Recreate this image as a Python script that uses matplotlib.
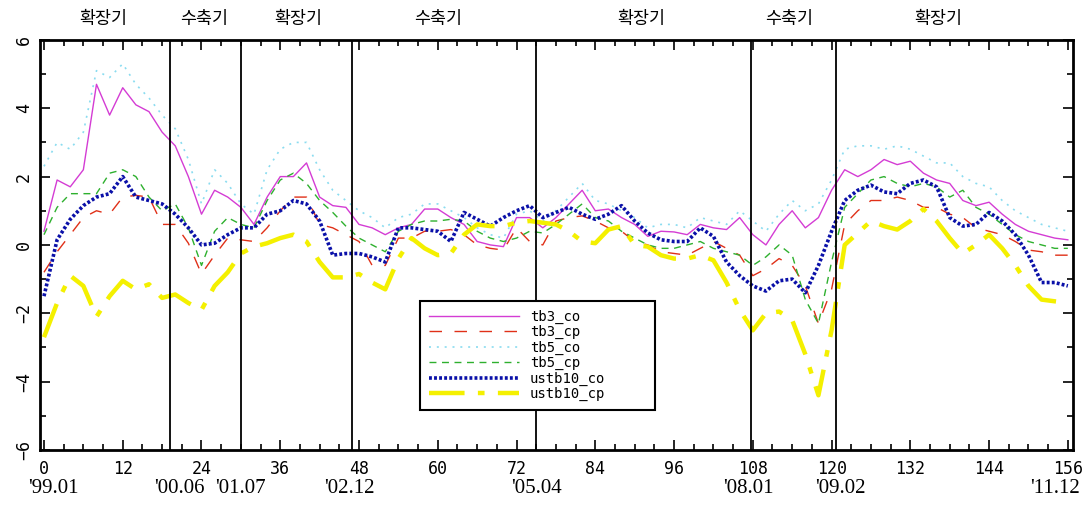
import matplotlib
matplotlib.use("Agg")
import matplotlib.pyplot as plt
import matplotlib.transforms as mtransforms
from matplotlib.ticker import MultipleLocator

# months since '99.01, every 2nd month
months = list(range(0, 157, 2))

tb3_co = [0.4, 1.9, 1.7, 2.2, 4.7, 3.8, 4.6, 4.1, 3.9, 3.3, 2.9, 2.0, 0.9, 1.6, 1.4, 1.1,
          0.6, 1.4, 2.0, 2.0, 2.4, 1.4, 1.15, 1.1, 0.6, 0.5, 0.3, 0.5, 0.6, 1.05, 1.05, 0.8,
          0.6, 0.1, 0.0, -0.05, 0.8, 0.8, 0.5, 0.8, 1.2, 1.6, 1.0, 1.05, 0.8, 0.6, 0.25, 0.4,
          0.38, 0.3, 0.6, 0.5, 0.45, 0.8, 0.3, 0.0, 0.6, 1.0, 0.5, 0.8, 1.6, 2.2, 2.0, 2.2,
          2.5, 2.35, 2.45, 2.1, 1.9, 1.8, 1.3, 1.15, 1.25, 0.9, 0.6, 0.4, 0.3, 0.2, 0.15]
tb3_cp = [-0.8, -0.2, 0.3, 0.8, 1.0, 0.9, 1.4, 1.45, 1.4, 0.6, 0.6, 0.05, -0.85, -0.3, 0.2, 0.15,
          0.1, 0.5, 1.0, 1.4, 1.4, 0.6, 0.5, 0.3, 0.1, -0.6, -0.6, 0.2, 0.2, 0.4, 0.4, 0.45,
          0.3, 0.0, -0.1, -0.15, 0.5, 0.1, 0.0, 0.7, 0.8, 0.85, 0.7, 0.5, 0.4, 0.1, 0.0, -0.2,
          -0.25, -0.3, -0.1, 0.1, -0.1, -0.3, -0.9, -0.7, -0.4, -0.6, -1.2, -2.3, -1.3, 0.6, 1.0, 1.3,
          1.3, 1.4, 1.3, 1.1, 1.1, 0.9, 0.8, 0.5, 0.4, 0.3, 0.1, -0.15, -0.2, -0.3, -0.3]
tb5_co = [2.3, 3.0, 2.8, 3.3, 5.1, 4.9, 5.3, 4.7, 4.3, 3.8, 3.4, 2.5, 1.2, 2.2, 1.8, 1.2,
          0.9, 2.2, 2.8, 3.0, 3.0, 2.2, 1.6, 1.3, 1.0, 0.8, 0.5, 0.8, 0.9, 1.2, 1.2, 1.0,
          0.8, 0.5, 0.3, 0.2, 0.9, 1.0, 0.7, 1.0, 1.4, 1.8, 1.3, 1.2, 1.0, 0.8, 0.5, 0.6,
          0.6, 0.5, 0.8, 0.7, 0.6, 1.0, 0.7, 0.4, 0.9, 1.3, 1.0, 1.2, 1.9, 2.8, 2.9, 2.9,
          2.8, 2.9, 2.8, 2.6, 2.4, 2.4, 2.0, 1.8, 1.7, 1.3, 1.0, 0.8, 0.6, 0.5, 0.4]
tb5_cp = [0.3, 1.1, 1.5, 1.5, 1.5, 2.1, 2.2, 2.0, 1.4, 1.0, 1.2, 0.5, -0.6, 0.4, 0.8, 0.6,
          0.5, 1.3, 1.9, 2.1, 1.8, 1.3, 0.95, 0.55, 0.2, 0.0, -0.2, 0.4, 0.6, 0.7, 0.7, 0.75,
          0.7, 0.4, 0.2, 0.1, 0.2, 0.4, 0.35, 0.6, 0.9, 1.2, 0.8, 0.7, 0.4, 0.2, 0.0, -0.1,
          -0.1, 0.0, 0.1, -0.1, -0.2, -0.3, -0.6, -0.35, 0.0, -0.3, -1.6, -2.3, -0.5, 1.1, 1.5, 1.9,
          2.0, 1.8, 1.7, 1.8, 1.7, 1.4, 1.6, 1.1, 0.9, 0.6, 0.3, 0.1, 0.0, -0.1, -0.1]
ustb10_co = [-1.5, 0.15, 0.75, 1.15, 1.4, 1.5, 2.0, 1.4, 1.3, 1.2, 0.9, 0.5, 0.0, 0.05, 0.3, 0.5,
             0.5, 0.9, 1.0, 1.3, 1.2, 0.7, -0.3, -0.25, -0.25, -0.35, -0.5, 0.5, 0.5, 0.45, 0.4, 0.1,
             0.95, 0.75, 0.55, 0.8, 1.0, 1.15, 0.8, 0.95, 1.1, 0.9, 0.75, 0.9, 1.15, 0.7, 0.35, 0.15,
             0.1, 0.1, 0.5, 0.25, -0.5, -0.9, -1.2, -1.35, -1.05, -1.0, -1.4, -0.6, 0.4, 1.3, 1.6, 1.75,
             1.55, 1.5, 1.8, 1.9, 1.7, 0.8, 0.55, 0.6, 0.95, 0.7, 0.3, -0.3, -1.1, -1.1, -1.2]
ustb10_cp = [-2.7, -1.7, -0.9, -1.2, -2.1, -1.5, -1.05, -1.3, -1.15, -1.55, -1.45, -1.7, -1.9, -1.2, -0.8, -0.25,
             -0.05, 0.05, 0.2, 0.3, 0.1, -0.5, -0.95, -0.95, -0.85, -1.1, -1.3, -0.4, 0.2, -0.1, -0.3, -0.25,
             0.3, 0.6, 0.55, 0.55, 0.65, 0.7, 0.65, 0.6, 0.4, 0.1, 0.05, 0.45, 0.55, 0.0, -0.05, -0.3,
             -0.4, -0.4, -0.3, -0.45, -1.1, -1.9, -2.5, -2.0, -1.95, -2.2, -3.2, -4.4, -2.5, 0.0, 0.35, 0.7,
             0.55, 0.45, 0.7, 1.05, 0.7, 0.2, -0.25, 0.0, 0.3, -0.1, -0.6, -1.2, -1.6, -1.65, -1.7]

# business cycle turning points (month index) and labels
turns = [19.2, 30, 47, 75, 107.8, 120.7]
date_pos = [1.5, 20.7, 29.9, 46.6, 75, 107.3, 121.3, 154]
date_labels = ["'99.01", "'00.06", "'01.07", "'02.12", "'05.04", "'08.01", "'09.02", "'11.12"]
phase_pos = [9, 24.4, 38.7, 60, 91, 113.6, 136.2]
phase_labels = ["확장기", "수축기", "확장기", "수축기", "확장기", "수축기", "확장기"]

fig = plt.figure(figsize=(10.88, 5.05), dpi=100)
ax = fig.add_axes([0.0368, 0.109, 0.9495, 0.812])

ax.plot(months, tb3_co, color="#d43cd4", lw=1.0, label="tb3_co")
ax.plot(months, tb3_cp, color="#e03018", lw=1.0, dashes=(9, 9), label="tb3_cp")
ax.plot(months, tb5_co, color="#8adcf0", lw=1.2, dashes=(1.2, 3.5), label="tb5_co")
ax.plot(months, tb5_cp, color="#2eb02e", lw=1.0, dashes=(5, 4), label="tb5_cp")
ax.plot(months, ustb10_co, color="#0a10a8", lw=2.6, dashes=(0.8, 0.6), label="ustb10_co")
ax.plot(months, ustb10_cp, color="#f4f000", lw=3.2, dashes=(8, 3, 1.5, 3), label="ustb10_cp")

for t in turns:
    ax.axvline(t, color="black", lw=1.3)

ax.set_xlim(-0.6, 156.8)
ax.set_ylim(-6, 6)
ax.xaxis.set_major_locator(MultipleLocator(12))
ax.xaxis.set_minor_locator(MultipleLocator(3))
ax.yaxis.set_major_locator(MultipleLocator(2))
ax.yaxis.set_minor_locator(MultipleLocator(1))
ax.tick_params(which="both", direction="in", top=True, right=True, width=1.2)
ax.tick_params(which="major", length=7)
ax.tick_params(which="minor", length=4)
ax.tick_params(axis="x", pad=7, labelsize=12)
ax.tick_params(axis="y", pad=5, labelsize=12)
for lab in ax.get_xticklabels():
    lab.set_family("DejaVu Sans Mono")
for lab in ax.get_yticklabels():
    lab.set_family("DejaVu Sans Mono")
    lab.set_rotation(90)
    lab.set_va("center")
for s in ax.spines.values():
    s.set_linewidth(2)

trans = mtransforms.blended_transform_factory(ax.transData, fig.transFigure)
for p, s in zip(date_pos, date_labels):
    ax.text(p, 0.032, s, transform=trans, ha="center", va="center",
            family="Liberation Serif", fontsize=15)
for p, s in zip(phase_pos, phase_labels):
    ax.text(p, 0.962, s, transform=trans, ha="center", va="center",
            family=["Noto Sans CJK KR", "DejaVu Sans"], fontsize=12.5)

leg = ax.legend(loc="lower left", bbox_to_anchor=(0.368, 0.098, 0.227, 0.26), mode="expand",
                borderaxespad=0, prop={"family": "DejaVu Sans Mono", "size": 10},
                handlelength=6.5, labelspacing=0.1, borderpad=0.6, fancybox=False,
                framealpha=1, edgecolor="black")
leg.get_frame().set_linewidth(1.5)

fig.savefig("out.png", dpi=100)
